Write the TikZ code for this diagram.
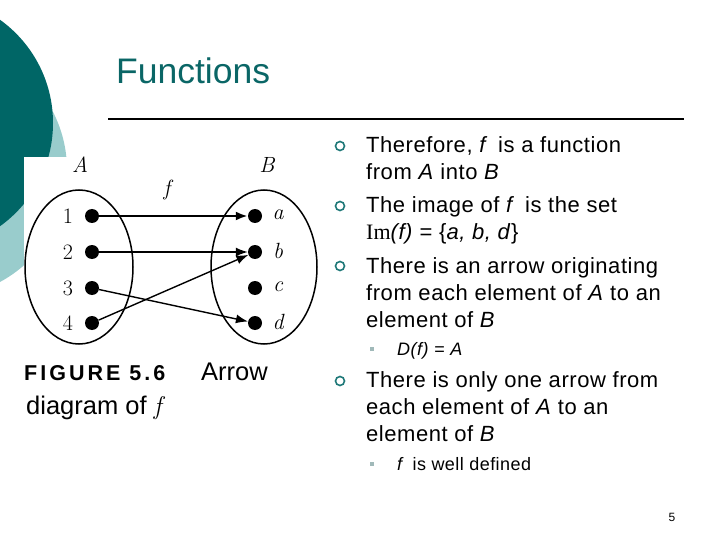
\documentclass[tikz,border=0pt]{standalone}
\usepackage{fontspec}
\newfontfamily\sfa[LetterSpace=2.5]{Liberation Sans}
\newfontfamily\sfplain{Liberation Sans}
\newfontfamily\sfb{Liberation Serif}
\newfontfamily\figf[LetterSpace=14]{Liberation Sans}
\usetikzlibrary{arrows.meta,shapes.geometric}
\definecolor{darkteal}{RGB}{0,102,102}
\definecolor{lightteal}{RGB}{153,204,204}
\definecolor{titlec}{RGB}{10,102,102}
\definecolor{bulc}{RGB}{30,120,120}
\definecolor{subc}{RGB}{160,185,185}
\tikzset{
  body/.style={anchor=base west, inner sep=0, font=\sfa\fontsize{22}{27}\selectfont},
  subbody/.style={anchor=base west, inner sep=0, font=\sfa\fontsize{18}{22}\selectfont},
  bul/.style={circle, draw=bulc, line width=1.6pt, inner sep=0, minimum size=9pt},
  subbul/.style={rectangle, fill=subc, inner sep=0, minimum size=4pt},
  dot/.style={circle, fill=black, inner sep=0, minimum size=14pt},
  lbl/.style={inner sep=0, font=\fontsize{22}{26}\selectfont},
  ilbl/.style={inner sep=0, font=\fontsize{22}{26}\selectfont\itshape},
  setell/.style={draw, ellipse, line width=1.5pt, inner sep=0},
  arr/.style={-{Latex[length=12pt,width=9pt]}, line width=1.4pt},
}
\begin{document}
\begin{tikzpicture}[x=1pt,y=-1pt]
\useasboundingbox (0,0) rectangle (720,540);
% background decoration
\fill[lightteal] (-60,170) circle (127);
\fill[darkteal] (-74,123) circle (127);
\fill[white] (24,157) rectangle (300,432);
% title
\node[anchor=base west, inner sep=0, text=titlec, font=\sfplain\fontsize{35.5}{40}\selectfont] (title) at (116,84) {Functions};
\draw[line width=2pt] (108,119) -- (684,119);
% figure
\node[setell, minimum width=108pt, minimum height=154pt] (EA) at (79,267) {};
\node[setell, minimum width=106pt, minimum height=154pt] (EB) at (264,267) {};
\node[ilbl] (lA) at (80,165) {A};
\node[ilbl] (lB) at (267,165) {B};
\node[ilbl] (lf) at (167,190) {f};
\node[dot] (d1) at (92,216) {};
\node[dot] (d2) at (92,252) {};
\node[dot] (d3) at (92,288) {};
\node[dot] (d4) at (92,323) {};
\node[dot] (da) at (255,216) {};
\node[dot] (db) at (255,252) {};
\node[dot] (dc) at (255,288) {};
\node[dot] (dd) at (255,323) {};
\node[lbl] (n1) at (68,216) {1};
\node[lbl] (n2) at (68,252) {2};
\node[lbl] (n3) at (68,288) {3};
\node[lbl] (n4) at (68,323) {4};
\node[ilbl] (na) at (278,215) {a};
\node[ilbl] (nb) at (278,251) {b};
\node[ilbl] (nc) at (278,287) {c};
\node[ilbl] (nd) at (278,322) {d};
\draw[arr, line width=2.4pt] (d1) -- (da);
\draw[arr] (d2) -- (db);
\draw[arr] (d3) -- (dd);
\draw[arr] (d4) -- (db);
\node[anchor=base west, inner sep=0, font=\figf\bfseries\fontsize{21.5}{24}\selectfont] (cap1) at (24,380) {FIGURE 5.6};
\node[anchor=base west, inner sep=0, font=\sfplain\fontsize{25.5}{28}\selectfont] (cap2) at (201,380) {Arrow};
\node[anchor=base west, inner sep=0, font=\sfplain\fontsize{25.5}{28}\selectfont] (cap3) at (26,414) {diagram of {\rmfamily\itshape f}};
% bullets
\node[bul] (b1) at (340,146) {};
\node[bul] (b2) at (340,206) {};
\node[bul] (b3) at (340,266) {};
\node[bul] (b4) at (340,381) {};
\node[subbul] (s1) at (372,349) {};
\node[subbul] (s2) at (372,464) {};
% text
\node[body] (t1) at (366,153) {Therefore, \textit{f}\, is a function};
\node[body] (t2) at (366,180) {from \textit{A} into \textit{B}};
\node[body] (t3) at (366,213) {The image of \textit{f}\, is the set};
\node[body] (t4) at (366,240) {{\sfb Im}\textit{(f)} = \{\textit{a, b, d}\}};
\node[body] (t5) at (366,273) {There is an arrow originating};
\node[body] (t6) at (366,300) {from each element of \textit{A} to an};
\node[body] (t7) at (366,327) {element of \textit{B}};
\node[subbody] (u1) at (397,355) {\textit{D(f)} = \textit{A}};
\node[body] (t8) at (366,387) {There is only one arrow from};
\node[body] (t9) at (366,414) {each element of \textit{A} to an};
\node[body] (t10) at (366,441) {element of \textit{B}};
\node[subbody] (u2) at (397,470) {\textit{f}\, is well defined};
\node[inner sep=0, font=\sfplain\fontsize{12}{14}\selectfont] (pg) at (672,517) {5};
\end{tikzpicture}
\end{document}
